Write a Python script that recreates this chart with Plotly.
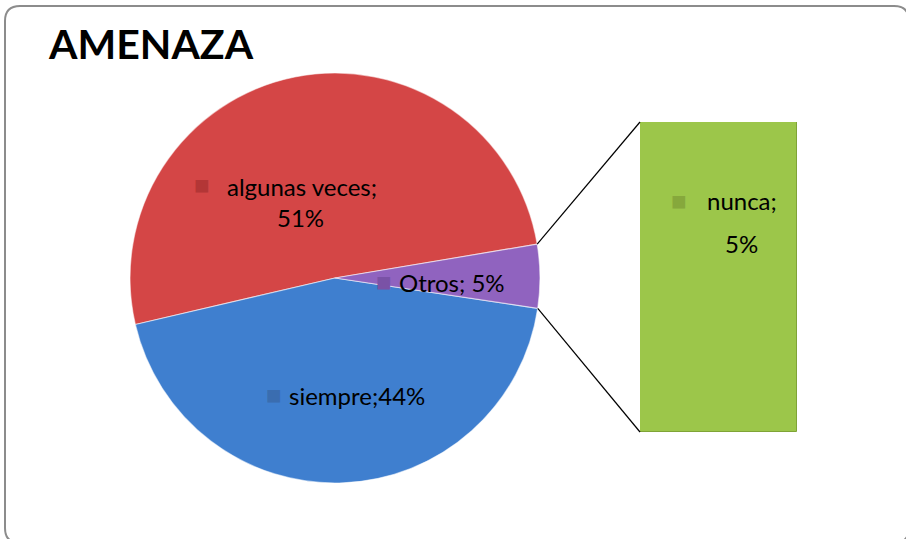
import math
import plotly.graph_objects as go

W, H = 906, 539

# ---- data ----
title_text = "AMENAZA"
pie_labels = ["algunas veces", "siempre", "Otros"]
pie_values = [51, 44, 5]
bar_labels = ["nunca"]
bar_values = [5]
pie_colors = ["#D44646", "#3F7FCF", "#9063BF"]
marker_colors = ["#B33636", "#3A6DB0", "#7A52A6", "#86A83C"]
bar_color = "#9CC64A"

# ---- layout geometry (pixels) ----
cx, cy, R = 335, 278, 205
otros_top_deg = 9.5  # math angle of the upper edge of the "Otros" slice
total = sum(pie_values)
# plotly (counterclockwise): first slice lies clockwise of the rotation point
rotation = 90 - otros_top_deg - 360 * pie_values[0] / total
bar_px = (640, 797, 122, 432)  # x0, x1, ytop, ybottom

def px2paper(x, y):
    return x / W, 1 - y / H

fig = go.Figure()

pd0 = px2paper(cx - R, cy + R)
pd1 = px2paper(cx + R, cy - R)
fig.add_trace(go.Pie(
    labels=pie_labels, values=pie_values, sort=False,
    direction="counterclockwise", rotation=rotation,
    marker=dict(colors=pie_colors, line=dict(color="rgba(255,255,255,0.55)", width=1.2)),
    textinfo="none", hoverinfo="label+percent", showlegend=False,
    domain=dict(x=[pd0[0], pd1[0]], y=[pd0[1], pd1[1]]),
))

bx0, by0 = px2paper(bar_px[0], bar_px[3])
bx1, by1 = px2paper(bar_px[1], bar_px[2])
fig.add_trace(go.Bar(
    x=bar_labels, y=bar_values, width=1,
    marker=dict(color=bar_color, line=dict(color="#7FA436", width=1)),
    showlegend=False, hoverinfo="x+y",
))
fig.update_xaxes(domain=[bx0, bx1], range=[-0.5, 0.5], visible=False, fixedrange=True)
fig.update_yaxes(domain=[by0, by1], range=[0, sum(bar_values)], visible=False, fixedrange=True)

# connector lines from the "Otros" slice edges to the bar corners
otros_frac = pie_values[2] / total
a_top = math.radians(otros_top_deg)
a_bot = math.radians(otros_top_deg - 360 * otros_frac)
p_top = (cx + R * math.cos(a_top), cy - R * math.sin(a_top))
p_bot = (cx + R * math.cos(a_bot), cy - R * math.sin(a_bot))
for p, q in [(p_top, (bar_px[0], bar_px[2])), (p_bot, (bar_px[0], bar_px[3]))]:
    a = px2paper(*p); b = px2paper(*q)
    fig.add_shape(type="line", xref="paper", yref="paper",
                  x0=a[0], y0=a[1], x1=b[0], y1=b[1],
                  line=dict(color="black", width=1.2))

# rounded outer border (right and bottom edges run just past the frame)
r = 15
L, T, Rr, B = 5, 6, 909, 543
path = (f"M {L/W},{1-(T+r)/H} Q {L/W},{1-T/H} {(L+r)/W},{1-T/H} "
        f"L {(Rr-r)/W},{1-T/H} Q {Rr/W},{1-T/H} {Rr/W},{1-(T+r)/H} "
        f"L {Rr/W},{1-(B-r)/H} Q {Rr/W},{1-B/H} {(Rr-r)/W},{1-B/H} "
        f"L {(L+r)/W},{1-B/H} Q {L/W},{1-B/H} {L/W},{1-(B-r)/H} Z")
fig.add_shape(type="path", xref="paper", yref="paper", path=path,
              line=dict(color="#8C8C8C", width=2), layer="above")

font = "Lato, 'Open Sans', sans-serif"
def ann(x, y, text, size=24, color="black", bold=False):
    xp, yp = px2paper(x, y)
    t = f"<b>{text}</b>" if bold else text
    fig.add_annotation(x=xp, y=yp, xref="paper", yref="paper", text=t,
                       showarrow=False, xanchor="center", yanchor="middle",
                       font=dict(family=font, size=size, color=color))

# title
xp, yp = px2paper(46, 44)
fig.add_annotation(x=xp, y=yp, xref="paper", yref="paper", text=f"<b>{title_text}</b>",
                   showarrow=False, xanchor="left", yanchor="middle",
                   font=dict(family=font, size=41, color="black"))

pcts = [round(v * 100 / (total)) for v in pie_values]
msz = 26
# labels
ann(302, 186, f"{pie_labels[0]};")
ann(300, 218, f"{pcts[0]}%")
ann(202, 184, "■", size=msz, color=marker_colors[0])

ann(357, 395, f"{pie_labels[1]};{pcts[1]}%")
ann(274, 394, "■", size=msz, color=marker_colors[1])

ann(452, 282, f"{pie_labels[2]}; {pcts[2]}%")
ann(384, 281, "■", size=msz, color=marker_colors[2])

ann(742, 200, f"{bar_labels[0]};")
ann(741, 243, f"{bar_values[0]}%")
ann(679, 200, "■", size=msz, color=marker_colors[3])

fig.update_layout(width=W, height=H, margin=dict(l=0, r=0, t=0, b=0),
                  paper_bgcolor="white", plot_bgcolor="rgba(0,0,0,0)",
                  bargap=0)

fig.write_html("out.html", config={"displayModeBar": False},
               post_script="document.body.style.margin='0px';document.body.style.overflow='hidden';")
